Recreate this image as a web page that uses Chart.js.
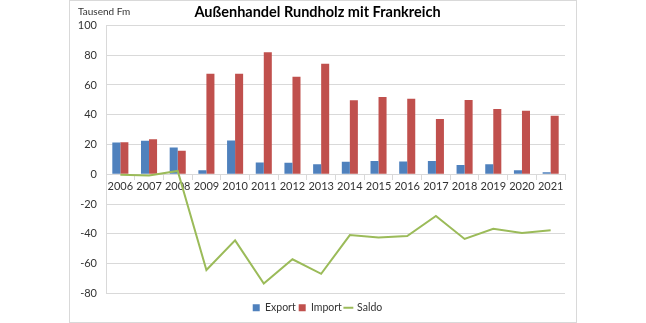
<!DOCTYPE html>
<html>
<head>
<meta charset="utf-8">
<script src="https://cdn.jsdelivr.net/npm/chart.js@4/dist/chart.umd.min.js"></script>
<style>
  body { margin: 0; background: #fff; }
  #box { position: absolute; left: 69px; top: 0; width: 506px; height: 321px; border: 1px solid #d9d9d9; }
</style>
</head>
<body>
<div id="box"><canvas id="chart" width="506" height="321"></canvas></div>
<script>
const years = ["2006", "2007", "2008", "2009", "2010", "2011", "2012", "2013", "2014", "2015", "2016", "2017", "2018", "2019", "2020", "2021"];
const exportValues = [21.3, 22.6, 18, 2.8, 22.8, 8, 7.8, 6.8, 8.4, 8.9, 8.7, 9, 6.2, 6.8, 2.8, 1.4];
const importValues = [21.6, 23.5, 15.8, 67.6, 67.6, 82, 65.6, 74.3, 49.8, 51.9, 50.8, 37.2, 49.9, 43.8, 42.7, 39.4];
const saldoValues = [-0.3, -0.8, 2.3, -64.2, -44.3, -73.3, -57, -66.8, -40.8, -42.4, -41.4, -27.9, -43.4, -36.6, -39.3, -37.6];
const yTicks = [100, 80, 60, 40, 20, 0, -20, -40, -60, -80];

const unitLabel = {
  id: 'unitLabel',
  afterLayout(chart) {
    // Legende etwas tiefer setzen
    chart.legend.top += 6;
    chart.legend.bottom += 6;
  },
  afterDraw(chart) {
    const c = chart.ctx;
    c.save();
    c.font = '10px Lato';
    c.fillStyle = '#333';
    c.textBaseline = 'middle';
    c.fillText('Tausend Fm', 8, 11);
    c.restore();
  }
};

const ctx = document.getElementById('chart').getContext('2d');
new Chart(ctx, {
  type: 'bar',
  data: {
    labels: years,
    datasets: [
      {
        label: 'Export',
        data: exportValues,
        backgroundColor: '#4F81BD',
        pointStyle: 'rect',
        order: 2
      },
      {
        label: 'Import',
        data: importValues,
        backgroundColor: '#C0504D',
        pointStyle: 'rect',
        order: 2
      },
      {
        label: 'Saldo',
        data: saldoValues,
        type: 'line',
        borderColor: '#9BBB59',
        backgroundColor: '#9BBB59',
        borderWidth: 2,
        pointRadius: 0,
        pointStyle: 'line',
        tension: 0,
        fill: false,
        order: 1
      }
    ]
  },
  options: {
    responsive: false,
    animation: false,
    layout: { padding: { right: 11, bottom: 5 } },
    datasets: {
      bar: { barPercentage: 1, categoryPercentage: 0.56 }
    },
    plugins: {
      title: {
        display: true,
        text: 'Außenhandel Rundholz mit Frankreich',
        font: { family: 'Lato', size: 14.5, weight: 'bold' },
        color: '#000',
        padding: { top: 3, bottom: 4 }
      },
      legend: {
        position: 'bottom',
        labels: {
          usePointStyle: true,
          boxWidth: 7,
          boxHeight: 7,
          padding: 3,
          font: { family: 'Lato', size: 10.5 },
          color: '#333',
          sort: (a, b) => a.datasetIndex - b.datasetIndex
        }
      },
      tooltip: { enabled: false }
    },
    scales: {
      x: {
        position: { y: 0 },
        grid: { drawOnChartArea: false, drawTicks: true, tickLength: 5, color: '#d9d9d9' },
        border: { color: '#d9d9d9' },
        ticks: { font: { family: 'Lato', size: 11 }, color: '#333', padding: 1, maxRotation: 0 }
      },
      y: {
        min: -80,
        max: 100,
        afterFit(scale) { scale.width = 36; },
        afterBuildTicks(scale) { scale.ticks = yTicks.map(v => ({ value: v })); },
        grid: { color: '#d9d9d9', drawTicks: false },
        border: { color: '#d9d9d9' },
        ticks: { font: { family: 'Lato', size: 11 }, color: '#333', padding: 9 }
      }
    }
  },
  plugins: [unitLabel]
});
</script>
</body>
</html>
